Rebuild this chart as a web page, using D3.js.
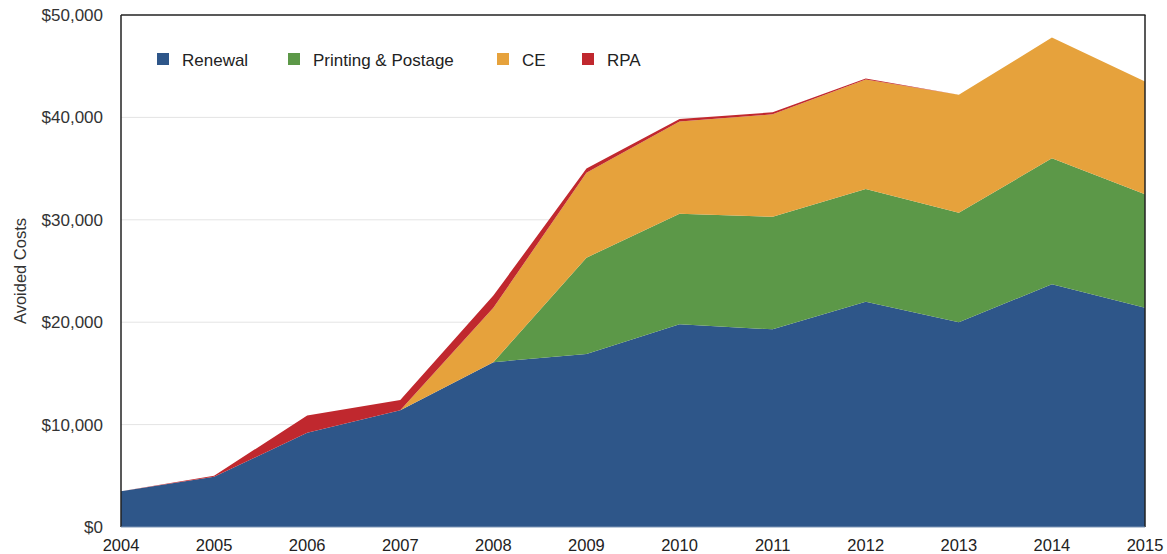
<!DOCTYPE html>
<html>
<head>
<meta charset="utf-8">
<script src="https://cdn.jsdelivr.net/npm/d3@7"></script>
<style>
  body { margin: 0; background: #fff; }
  text { font-family: "Liberation Sans", Arial, sans-serif; }
</style>
</head>
<body>
<script>
let years = [2004, 2005, 2006, 2007, 2008, 2009, 2010, 2011, 2012, 2013, 2014, 2015];
let renewal = [3500, 4900, 9200, 11400, 16100, 16900, 19800, 19300, 22000, 20000, 23700, 21400];
let printing = [0, 0, 0, 0, 0, 9400, 10800, 11000, 11000, 10700, 12300, 11100];
let ce = [0, 0, 0, 0, 5300, 8300, 9000, 10000, 10700, 11500, 11800, 11000];
let rpa = [0, 100, 1700, 1000, 1200, 400, 250, 200, 100, 0, 0, 0];
let seriesNames = ["Renewal", "Printing & Postage", "CE", "RPA"];
let colors = ["#2e5689", "#5c9848", "#e6a23c", "#c0282e"];
let yTicks = [0, 10000, 20000, 30000, 40000, 50000];

let W = 1167, H = 554;
let mLeft = 121, mRight = 1145, mTop = 15, mBottom = 527;

let rows = years.map((yr, i) => {
  return { year: yr, "Renewal": renewal[i], "Printing & Postage": printing[i], "CE": ce[i], "RPA": rpa[i] };
});

let svg = d3.select("body").append("svg")
  .attr("width", W)
  .attr("height", H);

let x = d3.scaleLinear().domain([2004, 2015]).range([mLeft, mRight]);
let y = d3.scaleLinear().domain([0, 50000]).range([mBottom, mTop]);

// grid
svg.append("g")
  .selectAll("line")
  .data(yTicks.slice(1, -1))
  .enter()
  .append("line")
  .attr("x1", mLeft).attr("x2", mRight)
  .attr("y1", d => y(d)).attr("y2", d => y(d))
  .style("stroke", "#e4e4e4");

// stacked areas
let stacked = d3.stack().keys(seriesNames)(rows);
let area = d3.area()
  .x(d => x(d.data.year))
  .y0(d => y(d[0]))
  .y1(d => y(d[1]));

svg.append("g")
  .selectAll("path")
  .data(stacked)
  .enter()
  .append("path")
  .attr("d", area)
  .style("fill", (d, i) => colors[i]);

// frame
svg.append("line").attr("x1", mLeft).attr("x2", mLeft).attr("y1", mTop).attr("y2", mBottom)
  .style("stroke", "#222").style("stroke-width", 1.5);
svg.append("line").attr("x1", mLeft).attr("x2", mRight + 0.5).attr("y1", mTop).attr("y2", mTop)
  .style("stroke", "#222").style("stroke-width", 1.5);
svg.append("line").attr("x1", mRight).attr("x2", mRight).attr("y1", mTop).attr("y2", mBottom)
  .style("stroke", "#222").style("stroke-width", 1.5);
svg.append("line").attr("x1", mLeft).attr("x2", mRight).attr("y1", mBottom).attr("y2", mBottom)
  .style("stroke", "#7d95b5").style("stroke-width", 1);

// y axis labels
let fmt = d3.format("$,");
svg.append("g")
  .selectAll("text")
  .data(yTicks)
  .enter()
  .append("text")
  .attr("x", 103)
  .attr("y", d => y(d) + 6)
  .attr("text-anchor", "end")
  .style("font-size", "17px")
  .style("fill", "#333")
  .text(d => fmt(d));

// x axis labels
svg.append("g")
  .selectAll("text")
  .data(years)
  .enter()
  .append("text")
  .attr("x", d => x(d))
  .attr("y", 551)
  .attr("text-anchor", "middle")
  .style("font-size", "16.5px")
  .style("fill", "#222")
  .text(d => d);

// axis title
svg.append("text")
  .attr("transform", "translate(26, 271) rotate(-90)")
  .attr("text-anchor", "middle")
  .style("font-size", "16.5px")
  .style("fill", "#333")
  .text("Avoided Costs");

// legend
let legendX = [157, 288, 497, 582];
let legend = svg.append("g")
  .selectAll("g")
  .data(seriesNames)
  .enter()
  .append("g")
  .attr("transform", (d, i) => `translate(${legendX[i]}, 53)`);
legend.append("rect")
  .attr("width", 12).attr("height", 12)
  .style("fill", (d, i) => colors[i]);
legend.append("text")
  .attr("x", 25).attr("y", 12.5)
  .style("font-size", "17px")
  .style("fill", "#222")
  .text(d => d);
</script>
</body>
</html>
